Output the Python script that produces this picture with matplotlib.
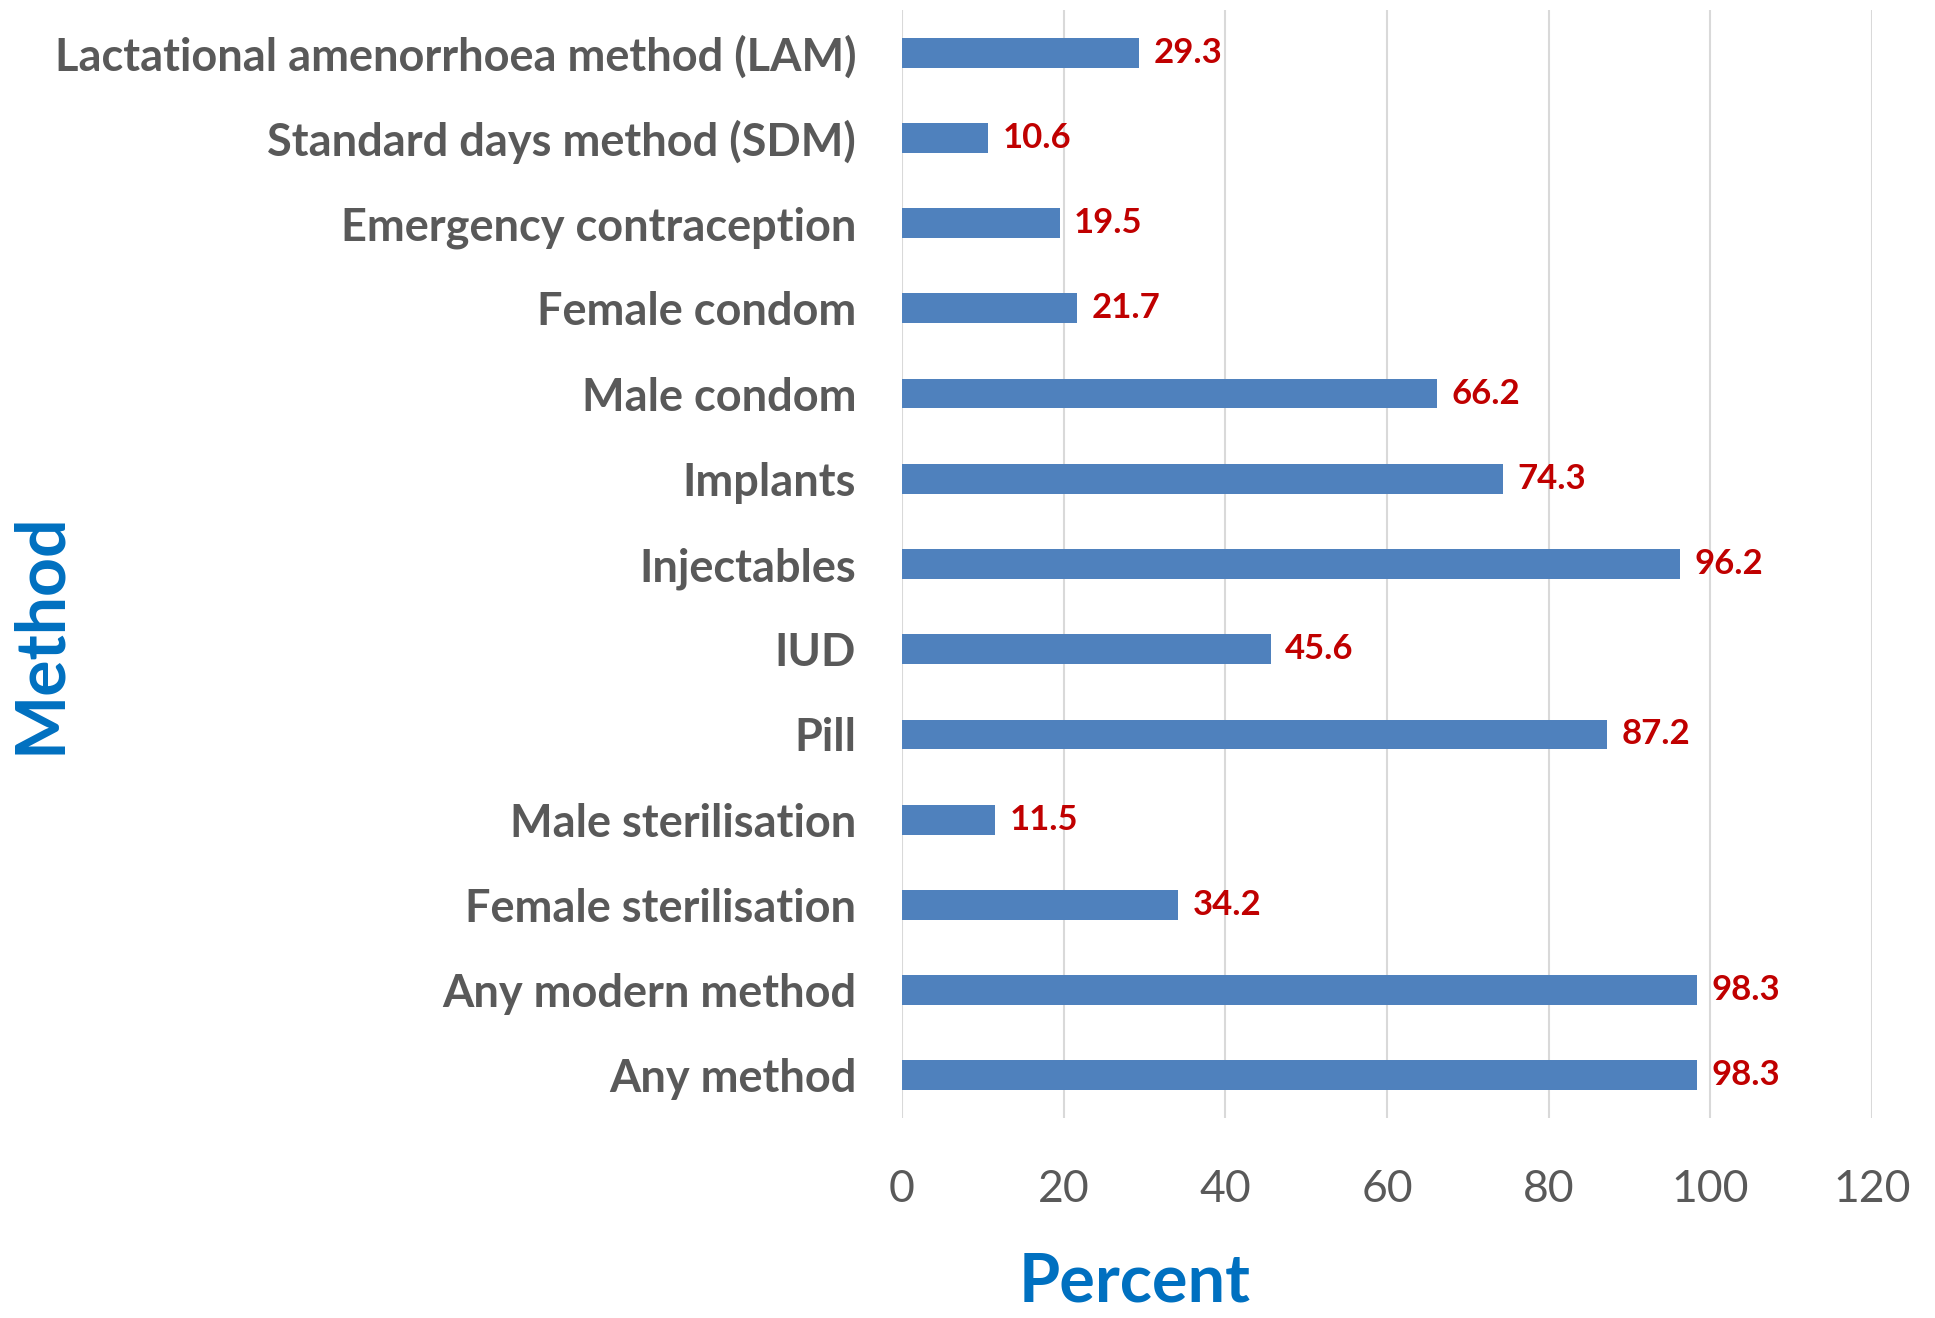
import matplotlib.pyplot as plt

methods = ["Lactational amenorrhoea method (LAM)", "Standard days method (SDM)",
           "Emergency contraception", "Female condom", "Male condom", "Implants",
           "Injectables", "IUD", "Pill", "Male sterilisation", "Female sterilisation",
           "Any modern method", "Any method"]
percent = [29.3, 10.6, 19.5, 21.7, 66.2, 74.3, 96.2, 45.6, 87.2, 11.5, 34.2, 98.3, 98.3]
xticks = [0, 20, 40, 60, 80, 100, 120]

plt.rcParams['font.family'] = ['Lato', 'DejaVu Sans']

fig = plt.figure(figsize=(19.35, 13.18), dpi=100)
ax = fig.add_axes([902 / 1935, 1 - 1118 / 1318, (1872 - 902) / 1935, (1118 - 10) / 1318])

ypos = list(range(len(methods)))
ax.barh(ypos, percent, height=0.35, color='#4F81BD', zorder=3)
for y, v in zip(ypos, percent):
    ax.text(v + 1.8, y, f"{v}", va='center', ha='left', color='#C00000',
            fontsize=25, fontweight='bold')

ax.set_xlim(0, 120)
ax.set_ylim(len(methods) - 0.5, -0.5)
ax.set_xticks(xticks)
ax.set_yticks(ypos)
ax.set_yticklabels(methods, fontsize=32.5, fontweight='bold', color='#595959')
ax.tick_params(axis='x', labelsize=32, colors='#595959', length=0, pad=37)
ax.tick_params(axis='y', length=0, pad=33)
ax.grid(axis='x', color='#D9D9D9', linewidth=1.5, zorder=0)
for s in ax.spines.values():
    s.set_visible(False)

fig.text(1135 / 1935, 1 - 1302 / 1318, "Percent", ha='center', va='baseline',
         color='#0070C0', fontsize=48, fontweight='bold')
fig.text(40 / 1935, 1 - 633 / 1318, "Method", ha='center', va='center', rotation=90,
         color='#0070C0', fontsize=49, fontweight='bold')

fig.savefig("out.png", dpi=100)
